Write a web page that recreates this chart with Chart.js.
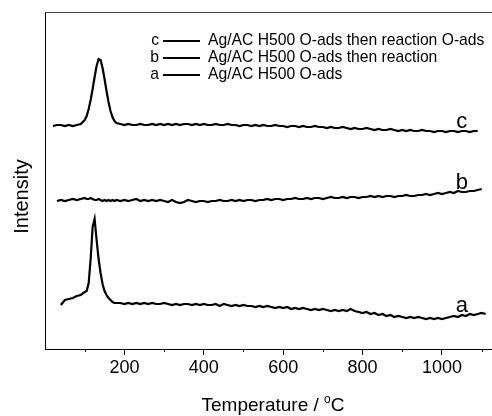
<!DOCTYPE html>
<html>
<head>
<meta charset="utf-8">
<script src="https://cdn.jsdelivr.net/npm/chart.js@4"></script>
<style>
  html, body { margin: 0; padding: 0; background: #fff; }
  #wrap { width: 492px; height: 416px; }
</style>
</head>
<body>
<div id="wrap"><canvas id="tpd"></canvas></div>
<script>
// temperatures (°C) shared by all traces, 5 °C steps around the desorption peaks
const temps = [20, 30, 40, 50, 60, 70, 80, 90, 100,
  105, 110, 115, 120, 125, 130, 135, 140, 145, 150, 155, 160, 165, 170, 175, 180,
  190, 200, 210, 220, 230, 240, 250, 260, 270, 280, 290, 300, 310, 320, 330, 340, 350,
  360, 370, 380, 390, 400, 410, 420, 430, 440, 450, 460, 470, 480, 490, 500, 510, 520,
  530, 540, 550, 560, 570, 580, 590, 600, 610, 620, 630, 640, 650, 660, 670, 680, 690,
  700, 710, 720, 730, 740, 750, 760, 770, 780, 790, 800, 810, 820, 830, 840, 850, 860,
  870, 880, 890, 900, 910, 920, 930, 940, 950, 960, 970, 980, 990, 1000, 1010, 1020,
  1030, 1040, 1050, 1060, 1070, 1080, 1090, 1100, 1110];

// intensities (a.u., traces already offset as in the figure)
const seriesC = [223, 224, 224, 223, 224, 223, 224, 225, 229,
  233, 240, 249, 260, 272, 283, 290, 289, 281, 270, 258, 247, 238, 232, 228, 226,
  225, 224, 225, 224, 224, 225, 224, 224, 225, 224, 225, 224, 225, 224, 225, 224, 225,
  225, 224, 225, 224, 225, 224, 224, 225, 224, 224, 225, 224, 224, 223, 224, 224, 223,
  224, 223, 224, 223, 223, 224, 223, 223, 222, 223, 223, 222, 223, 222, 222, 223, 222,
  222, 221, 222, 221, 221, 222, 221, 220, 221, 220, 220, 221, 220, 219, 220, 219, 219,
  220, 219, 218, 219, 218, 219, 218, 218, 219, 218, 218, 217, 218, 218, 217, 218,
  218, 217, 218, 218, 217, 218, 218, null, null];

const seriesB = [null, 148, 149, 148, 149, 150, 149, 150, 151,
  150, 150, 151, 150, 149, 149, 150, 149, 148, 149, 148, 149, 148, 149, 148, 149,
  148, 149, 148, 149, 150, 148, 149, 148, 149, 148, 149, 148, 147, 149, 147, 146, 147,
  149, 148, 147, 148, 148, 147, 148, 148, 149, 148, 148, 149, 148, 149, 148, 149, 149,
  148, 149, 149, 150, 149, 150, 150, 149, 150, 150, 151, 150, 150, 151, 150, 151, 151,
  150, 151, 152, 151, 151, 152, 151, 152, 152, 151, 152, 152, 153, 152, 153, 152, 153,
  153, 152, 153, 153, 154, 153, 153, 154, 154, 155, 154, 155, 156, 155, 156, 157,
  156, 158, 157, 157, 158, 158, 159, 160, null];

const seriesA = [null, null, 44, 49, 50, 51, 53, 54, 57,
  58, 66, 90, 122, 130, 109, 90, 76, 65, 58, 54, 51, 49, 47, 46, 46,
  46, 45, 46, 45, 46, 45, 46, 45, 46, 45, 45, 46, 45, 44, 45, 44, 45,
  45, 44, 45, 44, 45, 44, 44, 45, 43, 45, 44, 43, 44, 43, 44, 43, 43,
  42, 43, 42, 43, 42, 41, 42, 41, 42, 40, 41, 40, 41, 40, 39, 40, 39,
  40, 39, 38, 39, 38, 39, 38, 40, 38, 37, 36, 37, 35, 36, 34, 35, 33,
  34, 32, 33, 32, 31, 32, 31, 32, 31, 30, 31, 30, 31, 30, 31, 32,
  33, 32, 34, 33, 35, 34, 35, 36, 35];

const seriesNames = ['Ag/AC H500 O-ads', 'Ag/AC H500 O-ads then reaction', 'Ag/AC H500 O-ads then reaction O-ads'];
const seriesTags = ['a', 'b', 'c'];
const majorTicks = [200, 400, 600, 800, 1000];
const minorTicks = [100, 300, 500, 700, 900, 1100];

const FONT = '"Liberation Sans", Arial, Helvetica, sans-serif';

const toPoints = vals => temps.map((t, i) => ({ x: t, y: vals[i] })).filter(p => p.y !== null);

const makeSet = (vals, i) => ({
  label: seriesNames[i],
  tag: seriesTags[i],
  data: toPoints(vals),
  borderColor: '#000',
  borderWidth: 2.2,
  pointRadius: 0,
  tension: 0,
  fill: false
});

// draws the frame top, minor ticks, legend, curve tags and axis titles
const decorations = {
  id: 'decorations',
  afterDraw(chart) {
    const { ctx, chartArea: area, scales: { x, y } } = chart;
    ctx.save();

    // top frame line
    ctx.strokeStyle = '#444';
    ctx.lineWidth = 1;
    ctx.beginPath();
    ctx.moveTo(area.left, area.top + 0.5);
    ctx.lineTo(area.right, area.top + 0.5);
    ctx.stroke();

    // minor ticks
    ctx.strokeStyle = '#000';
    minorTicks.forEach(v => {
      const px = Math.round(x.getPixelForValue(v)) + 0.5;
      ctx.beginPath();
      ctx.moveTo(px, area.bottom);
      ctx.lineTo(px, area.bottom + 3);
      ctx.stroke();
    });

    // legend (c on top)
    ctx.fillStyle = '#000';
    ctx.font = '15.7px ' + FONT;
    ctx.textBaseline = 'middle';
    const rows = chart.data.datasets.slice().reverse();
    rows.forEach((ds, r) => {
      const ry = 41 + r * 17;
      ctx.textAlign = 'right';
      ctx.fillText(ds.tag, 159, ry);
      ctx.lineWidth = 2;
      ctx.beginPath();
      ctx.moveTo(163, ry);
      ctx.lineTo(200, ry);
      ctx.stroke();
      ctx.textAlign = 'left';
      ctx.fillText(ds.label, 208, ry);
    });

    // curve tags, just above each trace near 1050 °C
    ctx.font = '22px ' + FONT;
    ctx.textAlign = 'center';
    ctx.textBaseline = 'alphabetic';
    chart.data.datasets.forEach(ds => {
      const p = ds.data.reduce((a, b) => Math.abs(b.x - 1050) < Math.abs(a.x - 1050) ? b : a);
      ctx.fillText(ds.tag, x.getPixelForValue(p.x), y.getPixelForValue(p.y) - 3);
    });

    // x title with superscript o
    ctx.textAlign = 'left';
    ctx.textBaseline = 'alphabetic';
    ctx.font = '19px ' + FONT;
    const main = 'Temperature / ';
    const wMain = ctx.measureText(main).width;
    ctx.font = '12px ' + FONT;
    const wSup = ctx.measureText('o').width;
    ctx.font = '19px ' + FONT;
    const wC = ctx.measureText('C').width;
    let tx = 273 - (wMain + wSup + wC) / 2;
    const ty = 411;
    ctx.fillText(main, tx, ty);
    tx += wMain;
    ctx.font = '12px ' + FONT;
    ctx.fillText('o', tx, ty - 8);
    tx += wSup;
    ctx.font = '19px ' + FONT;
    ctx.fillText('C', tx, ty);

    // y title
    ctx.save();
    ctx.translate(22, (area.top + area.bottom) / 2 + 16);
    ctx.rotate(-Math.PI / 2);
    ctx.textAlign = 'center';
    ctx.textBaseline = 'middle';
    ctx.font = '20px ' + FONT;
    ctx.fillText('Intensity', 0, 0);
    ctx.restore();

    ctx.restore();
  }
};

new Chart(document.getElementById('tpd'), {
  type: 'line',
  data: {
    datasets: [makeSet(seriesA, 0), makeSet(seriesB, 1), makeSet(seriesC, 2)]
  },
  options: {
    responsive: true,
    maintainAspectRatio: false,
    animation: false,
    layout: { padding: { left: 45, top: 12, right: 0, bottom: 0 } },
    plugins: { legend: { display: false }, tooltip: { enabled: false } },
    scales: {
      x: {
        type: 'linear',
        min: 0,
        max: 1126,
        afterFit: s => { s.height = 67; },
        afterBuildTicks: s => { s.ticks = majorTicks.map(v => ({ value: v })); },
        ticks: {
          font: { family: FONT, size: 18 },
          color: '#000',
          padding: 2,
          maxRotation: 0,
          autoSkip: false,
          callback: v => String(v)
        },
        grid: { drawOnChartArea: false, drawTicks: true, tickLength: 6, color: '#000' },
        border: { color: '#000', width: 1 }
      },
      y: {
        min: 0,
        max: 337,
        afterFit: s => { s.width = 0; },
        ticks: { display: false },
        grid: { display: false, drawTicks: false },
        border: { color: '#000', width: 1 }
      }
    }
  },
  plugins: [decorations]
});
</script>
</body>
</html>
